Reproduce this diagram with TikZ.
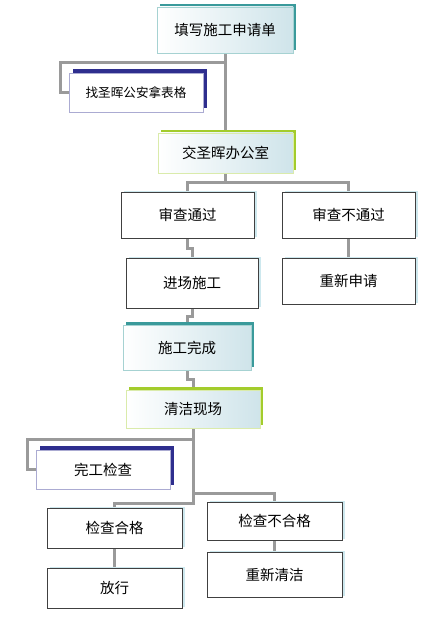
\documentclass[tikz,border=0pt]{standalone}
\usepackage{fontspec}
\setmainfont{Noto Sans CJK SC}
\usetikzlibrary{shadows,backgrounds}
\definecolor{tealsh}{HTML}{3A9A9B}
\definecolor{bluesh}{HTML}{2E2E8E}
\definecolor{greensh}{HTML}{A3CC2C}
\definecolor{cyansh}{HTML}{CDE8EE}
\definecolor{grad}{HTML}{CFE4EA}
\definecolor{conncol}{HTML}{9A9A9A}
\tikzset{
  box/.style={draw, rectangle, inner sep=0pt, outer sep=0pt, line width=0.8pt,
    font=\fontsize{14.5}{14.5}\selectfont},
  tealbox/.style={box, draw=tealsh!45, left color=white, right color=grad,
    general shadow={fill=tealsh, shadow xshift=3pt, shadow yshift=3pt}},
  greenbox/.style={box, draw=greensh!40, left color=white, right color=grad,
    general shadow={fill=greensh, shadow xshift=3pt, shadow yshift=3pt}},
  bluebox/.style={box, draw=bluesh!40, fill=white,
    general shadow={fill=bluesh, shadow xshift=4pt, shadow yshift=4pt}},
  plainbox/.style={box, draw=black!75, fill=white,
    general shadow={fill=cyansh, shadow xshift=3pt, shadow yshift=1pt}},
  conn/.style={draw=conncol, line width=3pt},
}
\begin{document}
\begin{tikzpicture}[x=1pt,y=-1pt]
\useasboundingbox (0,0) rectangle (429,617);
\node[tealbox, minimum width=136pt, minimum height=46pt] (b1) at (225,30) {填写施工申请单};
\node[bluebox, minimum width=134pt, minimum height=39pt] (b2) at (136,92.5) {\fontsize{12.6}{12.6}\selectfont 找圣晖公安拿表格};
\node[greenbox, minimum width=135pt, minimum height=40pt] (b3) at (225.5,153) {交圣晖办公室};
\node[plainbox, minimum width=133pt, minimum height=46pt] (b4) at (187.5,215) {审查通过};
\node[plainbox, minimum width=133pt, minimum height=46pt] (b5) at (348.5,215) {审查不通过};
\node[plainbox, minimum width=132pt, minimum height=50pt] (b6) at (192,283) {进场施工};
\node[plainbox, minimum width=133pt, minimum height=46pt] (b7) at (348.5,281) {重新申请};
\node[tealbox, minimum width=128pt, minimum height=45pt] (b8) at (187,347.5) {施工完成};
\node[greenbox, minimum width=134pt, minimum height=38pt] (b9) at (193,409) {清洁现场};
\node[bluebox, minimum width=134pt, minimum height=39pt] (b10) at (103,469.5) {完工检查};
\node[plainbox, minimum width=135pt, minimum height=40pt] (b11) at (114.5,528) {检查合格};
\node[plainbox, minimum width=135pt, minimum height=38pt] (b12) at (274.5,521) {检查不合格};
\node[plainbox, minimum width=135pt, minimum height=40pt] (b13) at (114.5,588) {放行};
\node[plainbox, minimum width=135pt, minimum height=45pt] (b14) at (274.5,574.5) {重新清洁};
\coordinate (j1) at (225,63);
\coordinate (k1) at (60,63);
\coordinate (j2) at (225.5,183);
\coordinate (j3) at (193,439);
\coordinate (k3) at (27,439);
\coordinate (j4) at (193,493);
\coordinate (j5) at (193,503);
\begin{scope}[on background layer]
\draw[conn] (b1.south) -- (b1.south |- b3.north);
\draw[conn] (j1) -- (k1) |- (b2.west);
\draw[conn] (b3.south) -- (j2);
\draw[conn] (b4.north) -- (b4.north |- j2) -- (b5.north |- j2) -- (b5.north);
\draw[conn] (b4.south) -- ++(0,10) -| (b6.north);
\draw[conn] (b5.south) -- (b7.north);
\draw[conn] (b6.south) -- ++(0,8) -| (b8.north);
\draw[conn] (b8.south) -- ++(0,9) -| (b9.north);
\draw[conn] (b9.south) -- (j5) -| (b11.north);
\draw[conn] (j4) -| (b12.north);
\draw[conn] (j3) -- (k3) |- (b10.west);
\draw[conn] (b11.south) -- (b13.north);
\draw[conn] (b12.south) -- (b14.north);
\end{scope}
\end{tikzpicture}
\end{document}
